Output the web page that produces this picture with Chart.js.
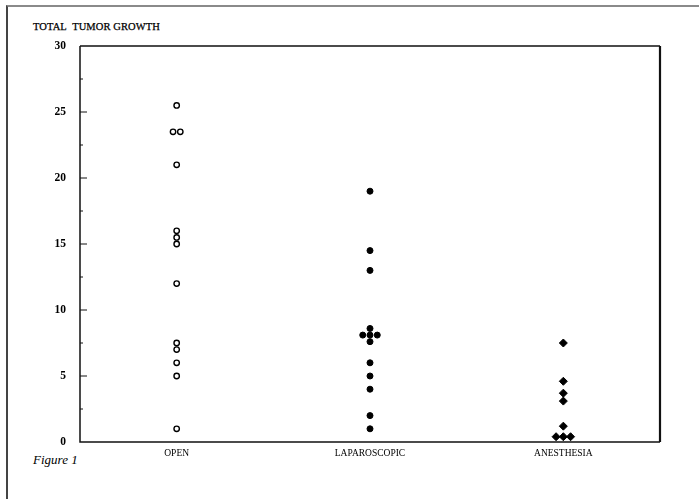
<!DOCTYPE html>
<html>
<head>
<meta charset="utf-8">
<script src="https://cdn.jsdelivr.net/npm/chart.js@4.4.1/dist/chart.umd.min.js"></script>
<style>
  body { margin: 0; background: #fff; }
  #wrap { position: relative; width: 699px; height: 499px; }
  #frame { position: absolute; left: 6px; top: 5px; right: 0; bottom: 0;
           border-left: 2px solid #444; border-top: 2px solid #8a8a8a; }
  #chartTitle { position: absolute; left: 33px; top: 21px; font: 10.5px "Liberation Serif", serif;
                color: #000; letter-spacing: 0.1px; -webkit-text-stroke: 0.25px #000; }
  #figLabel { position: absolute; left: 33px; top: 452px; font: italic 13px "Liberation Serif", serif; color: #000; }
  canvas { position: absolute; left: 0; top: 0; }
</style>
</head>
<body>
<div id="wrap">
  <div id="frame"></div>
  <div id="chartTitle">TOTAL&nbsp; TUMOR GROWTH</div>
  <div id="figLabel">Figure 1</div>
  <canvas id="tumor" width="699" height="499"></canvas>
</div>
<script>
// data
const categories = ['OPEN', 'LAPAROSCOPIC', 'ANESTHESIA'];
const openValues = [25.5, 23.5, 23.5, 21, 16, 15.5, 15, 12, 7.5, 7, 6, 5, 1];
const laparoscopicValues = [19, 14.5, 13, 8.6, 8.1, 8.1, 8.1, 7.6, 6, 5, 4, 2, 1];
const anesthesiaValues = [7.5, 4.6, 3.7, 3.1, 1.2, 0.4, 0.4, 0.4];
const yTicks = [0, 5, 10, 15, 20, 25, 30];

// spread repeated values side by side like the original dot plot
function toPoints(values, catIndex) {
    const center = 1 + catIndex * 2;
    const step = 0.075;
    const counts = {};
    values.forEach(v => counts[v] = (counts[v] || 0) + 1);
    const seen = {};
    return values.map(v => {
        const n = counts[v];
        const i = seen[v] = (seen[v] === undefined ? 0 : seen[v] + 1);
        return { x: center + (i - (n - 1) / 2) * step, y: v };
    });
}

// box around the plot and small inward tick marks on the y axis
const frameBox = {
    id: 'frameBox',
    afterDatasetsDraw(chart) {
        const { ctx, chartArea: a, scales: { y } } = chart;
        ctx.save();
        ctx.strokeStyle = '#111';
        ctx.lineWidth = 1.5;
        ctx.beginPath();
        ctx.moveTo(a.left, a.top);
        ctx.lineTo(a.left, a.bottom);
        ctx.lineTo(a.right, a.bottom);
        ctx.moveTo(a.left, a.top);
        ctx.lineTo(a.right, a.top);
        ctx.stroke();
        ctx.lineWidth = 2.2;
        ctx.beginPath();
        ctx.moveTo(a.right, a.top);
        ctx.lineTo(a.right, a.bottom);
        ctx.stroke();
        ctx.lineWidth = 1;
        for (let v = 2.5; v < 30; v += 2.5) {
            const py = y.getPixelForValue(v);
            const len = v % 5 === 0 ? 7 : 3;
            ctx.beginPath();
            ctx.moveTo(a.left, py);
            ctx.lineTo(a.left + len, py);
            ctx.stroke();
        }
        ctx.restore();
    }
};

new Chart(document.getElementById('tumor'), {
    type: 'scatter',
    data: {
        datasets: [
            {
                label: categories[0],
                data: toPoints(openValues, 0),
                pointStyle: 'circle',
                pointRadius: 2.7,
                backgroundColor: '#fff',
                borderColor: '#000',
                borderWidth: 1.4,
            },
            {
                label: categories[1],
                data: toPoints(laparoscopicValues, 1),
                pointStyle: 'circle',
                pointRadius: 3,
                backgroundColor: '#000',
                borderColor: '#000',
                borderWidth: 1,
            },
            {
                label: categories[2],
                data: toPoints(anesthesiaValues, 2),
                pointStyle: 'rectRot',
                pointRadius: 4,
                backgroundColor: '#000',
                borderColor: '#000',
                borderWidth: 1,
            },
        ],
    },
    options: {
        responsive: false,
        animation: false,
        layout: { padding: { left: 40, top: 46, right: 39, bottom: 37 } },
        plugins: {
            legend: { display: false },
            tooltip: { enabled: false },
        },
        scales: {
            x: {
                type: 'linear',
                min: 0,
                max: 6,
                afterBuildTicks: s => { s.ticks = [1, 3, 5].map(v => ({ value: v })); },
                afterFit: s => { s.height = 20; },
                grid: { display: false, drawTicks: false },
                border: { display: false },
                ticks: {
                    padding: 6,
                    color: '#000',
                    font: { family: 'Liberation Serif', size: 9.5 },
                    callback: v => categories[(v - 1) / 2],
                },
            },
            y: {
                min: 0,
                max: 30,
                afterBuildTicks: s => { s.ticks = yTicks.map(v => ({ value: v })); },
                afterFit: s => { s.width = 40; },
                grid: { display: false, drawTicks: false },
                border: { display: false },
                ticks: {
                    padding: 14,
                    color: '#000',
                    font: { family: 'Liberation Serif', size: 11.5, weight: 'bold' },
                },
            },
        },
    },
    plugins: [frameBox],
});
</script>
</body>
</html>
